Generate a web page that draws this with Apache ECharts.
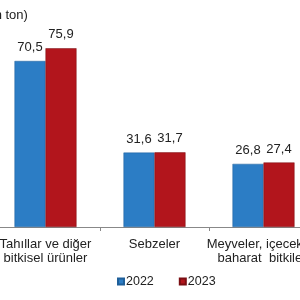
<!DOCTYPE html>
<html>
<head>
<meta charset="utf-8">
<script src="https://cdn.jsdelivr.net/npm/echarts@6/dist/echarts.min.js"></script>
<style>html,body{margin:0;padding:0;background:#fff}#chart{width:300px;height:300px}</style>
</head>
<body>
<div id="chart"></div>
<script>
var categories = ['Tahıllar ve diğer\nbitkisel ürünler', 'Sebzeler', 'Meyveler, içecek ve\nbaharat  bitkileri'];
var values2022 = [70.5, 31.6, 26.8];
var values2023 = [75.9, 31.7, 27.4];
var seriesNames = ['2022', '2023'];

function fmt(p) {
    return p.value.toFixed(1).replace('.', ',');
}

var myChart = echarts.init(document.getElementById('chart'));
var options = {
    animation: false,
    textStyle: {fontFamily: 'Liberation Sans, Arial, sans-serif'},
    title: {
        text: '(milyon ton)',
        left: -45,
        top: 4,
        textStyle: {fontSize: 13, fontWeight: 'normal', color: '#222'}
    },
    legend: {
        data: seriesNames,
        bottom: 7,
        left: 112,
        itemWidth: 6,
        itemHeight: 6,
        itemGap: 25,
        icon: 'rect',
        textStyle: {fontSize: 12.5, color: '#222', padding: [0, 0, 0, -3]}
    },
    grid: {left: -9, width: 327, top: 38.6, height: 188.4, containLabel: false, outerBoundsMode: 'none'},
    xAxis: {
        type: 'category',
        data: categories,
        axisLine: {lineStyle: {color: '#888'}},
        axisTick: {show: true, length: 4, lineStyle: {color: '#888'}},
        axisLabel: {color: '#222', fontSize: 13, lineHeight: 14, margin: 10, interval: 0}
    },
    yAxis: {
        type: 'value',
        min: 0,
        max: 80,
        show: false,
        splitLine: {show: false}
    },
    series: [
        {
            name: '2022',
            type: 'bar',
            data: values2022,
            barWidth: 31,
            barGap: '0%',
            itemStyle: {color: '#2c7dc5', borderColor: '#1f5f99', borderWidth: 0.5},
            label: {show: true, position: 'top', formatter: fmt, fontSize: 13, color: '#222', distance: 7}
        },
        {
            name: '2023',
            type: 'bar',
            data: values2023,
            barWidth: 31,
            barGap: '0%',
            itemStyle: {color: '#b2151c', borderColor: '#7a0e12', borderWidth: 0.5},
            label: {show: true, position: 'top', formatter: fmt, fontSize: 13, color: '#222', distance: 7}
        }
    ]
};
myChart.setOption(options);
</script>
</body>
</html>
